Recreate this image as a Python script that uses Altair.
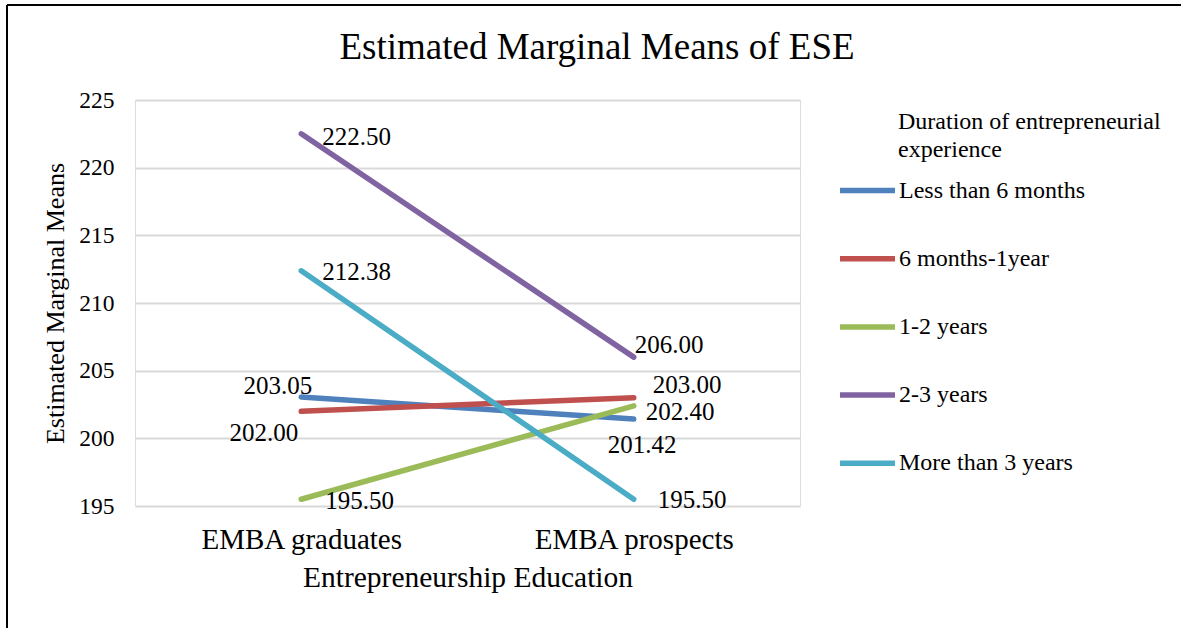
import altair as alt
import pandas as pd

# ---- data ----
categories = ["EMBA graduates", "EMBA prospects"]
series = ["Less than 6 months", "6 months-1year", "1-2 years", "2-3 years", "More than 3 years"]
graduates = [203.05, 202.00, 195.50, 222.50, 212.38]
prospects = [201.42, 203.00, 202.40, 206.00, 195.50]
colors = ["#4F81BD", "#C0504D", "#9BBB59", "#8064A2", "#4BACC6"]

rows = []
for s, g, p in zip(series, graduates, prospects):
    rows.append({"edu": categories[0], "dur": s, "value": g})
    rows.append({"edu": categories[1], "dur": s, "value": p})
df = pd.DataFrame(rows)
one = pd.DataFrame({"k": [0]})

FONT = "Liberation Serif"

# label styling (offsets from each point): (align, dx, dy)
label_style = {
    ("Less than 6 months", "EMBA graduates"): ("right", 11, -11),
    ("6 months-1year", "EMBA graduates"): ("right", -3, 22),
    ("1-2 years", "EMBA graduates"): ("left", 24, 2),
    ("2-3 years", "EMBA graduates"): ("left", 21, 3),
    ("More than 3 years", "EMBA graduates"): ("left", 21, 1),
    ("Less than 6 months", "EMBA prospects"): ("left", -26, 26),
    ("6 months-1year", "EMBA prospects"): ("left", 19, -13),
    ("1-2 years", "EMBA prospects"): ("left", 12, 6),
    ("2-3 years", "EMBA prospects"): ("left", 1, -12),
    ("More than 3 years", "EMBA prospects"): ("left", 24, 1),
}

W, H = 665, 406
LEFT, TOP = 135, 100

x_enc = alt.X(
    "edu:N",
    sort=categories,
    scale=alt.Scale(type="point", padding=0.5),
    axis=alt.Axis(
        title="Entrepreneurship Education",
        labelAngle=0,
        labelFontSize=29,
        titleFontSize=29.5,
        labelFont=FONT,
        titleFont=FONT,
        labelColor="black",
        titleColor="black",
        titleFontWeight="normal",
        labelLimit=500,
        domain=False,
        ticks=False,
        grid=False,
        labelPadding=19,
        titlePadding=9,
    ),
)
y_enc = alt.Y(
    "value:Q",
    scale=alt.Scale(domain=[195, 225], nice=False, zero=False),
    axis=alt.Axis(
        title="Estimated Marginal Means",
        values=[195, 200, 205, 210, 215, 220, 225],
        labelFontSize=23.5,
        titleFontSize=26,
        labelFont=FONT,
        titleFont=FONT,
        labelColor="black",
        titleColor="black",
        titleFontWeight="normal",
        domain=False,
        ticks=False,
        grid=True,
        gridColor="#d9d9d9",
        gridWidth=2,
        labelPadding=21,
        titlePadding=10,
    ),
)

lines = alt.Chart(df).mark_line(strokeWidth=5.5, strokeCap="round").encode(
    x=x_enc,
    y=y_enc,
    color=alt.Color(
        "dur:N",
        sort=series,
        scale=alt.Scale(domain=series, range=colors),
        legend=alt.Legend(
            title=None,
            orient="none",
            legendX=702,
            legendY=60,
            padding=0,
            symbolType="stroke",
            symbolSize=3025,
            symbolStrokeWidth=5.5,
            labelFont=FONT,
            labelFontSize=24,
            labelColor="black",
            labelOffset=1,
            rowPadding=25.2,
            labelLimit=400,
        ),
    ),
    detail="dur:N",
)

layers = [lines]
for (s, c), (align, dx, dy) in label_style.items():
    layers.append(
        alt.Chart(df)
        .transform_filter((alt.datum.dur == s) & (alt.datum.edu == c))
        .mark_text(align=align, baseline="middle", dx=dx, dy=dy, font=FONT, fontSize=25, color="black")
        .encode(x=alt.X("edu:N", sort=categories), y="value:Q", text=alt.Text("value:Q", format=".2f"))
    )

# chart title (text, not data)
title_text = alt.Chart(one).mark_text(
    text="Estimated Marginal Means of ESE",
    align="center",
    baseline="alphabetic",
    font=FONT,
    fontSize=37,
    color="black",
).encode(x=alt.value(597 - LEFT), y=alt.value(59 - TOP))

# legend title (text, not data)
legend_title = alt.Chart(one).mark_text(
    text=["Duration of entrepreneurial", "experience"],
    align="left",
    baseline="top",
    font=FONT,
    fontSize=24,
    lineHeight=28,
    color="black",
).encode(x=alt.value(898 - LEFT), y=alt.value(110 - TOP))

# outer frame (top and left border lines)
frame_top = alt.Chart(one).mark_rule(color="black", strokeWidth=2).encode(
    x=alt.value(7 - LEFT), x2=alt.value(1181 - LEFT), y=alt.value(5 - TOP)
)
frame_left = alt.Chart(one).mark_rule(color="black", strokeWidth=2).encode(
    x=alt.value(7 - LEFT), y=alt.value(5 - TOP), y2=alt.value(628 - TOP)
)

chart = (
    alt.layer(*layers, title_text, legend_title, frame_top, frame_left)
    .properties(
        width=W,
        height=H,
        autosize=alt.AutoSizeParams(type="none"),
        padding={"left": LEFT, "top": TOP, "right": 1181 - LEFT - W, "bottom": 628 - TOP - H},
    )
    .configure_view(stroke=None)
    .configure(background="white")
)

chart.save("out.html", embed_options={"renderer": "svg", "actions": False})
